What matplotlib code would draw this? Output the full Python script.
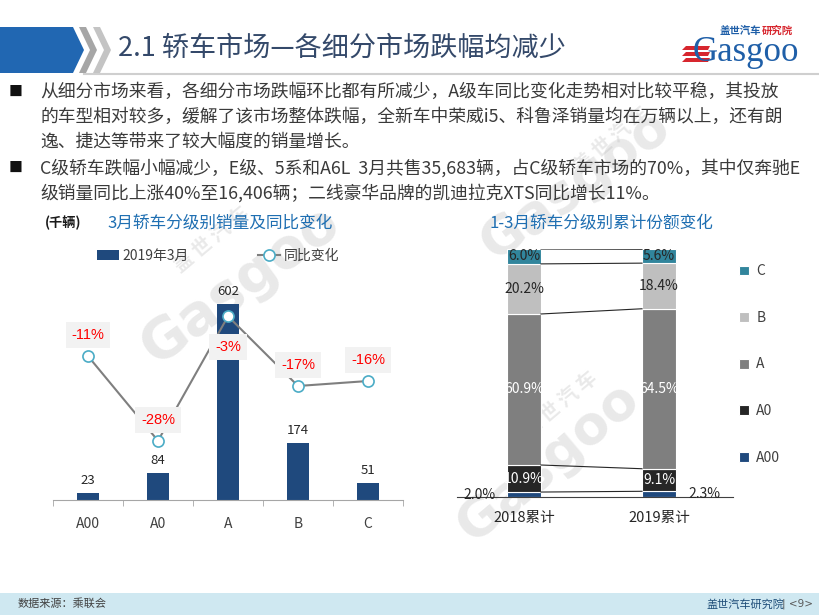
import matplotlib
matplotlib.use('Agg')
import matplotlib.pyplot as plt
from matplotlib.patches import Polygon, Rectangle, Patch
from matplotlib.lines import Line2D

plt.rcParams['font.family'] = ['Noto Sans CJK SC', 'DejaVu Sans']

# ---------------- data ----------------
page_title = "2.1 轿车市场—各细分市场跌幅均减少"
bullet_paragraphs = [
    ["从细分市场来看，各细分市场跌幅环比都有所减少，A级车同比变化走势相对比较平稳，其投放",
     "的车型相对较多，缓解了该市场整体跌幅，全新车中荣威i5、科鲁泽销量均在万辆以上，还有朗",
     "逸、捷达等带来了较大幅度的销量增长。"],
    ["C级轿车跌幅小幅减少，E级、5系和A6L  3月共售35,683辆，占C级轿车市场的70%，其中仅奔驰E",
     "级销量同比上涨40%至16,406辆；二线豪华品牌的凯迪拉克XTS同比增长11%。"],
]
left_title = "3月轿车分级别销量及同比变化"
left_unit = "(千辆)"
segments = ["A00", "A0", "A", "B", "C"]
sales_2019_03 = [23, 84, 602, 174, 51]          # 千辆
yoy_change = [-11, -28, -3, -17, -16]           # %
bar_series_name = "2019年3月"
line_series_name = "同比变化"

right_title = "1-3月轿车分级别累计份额变化"
share_periods = ["2018累计", "2019累计"]
share_names = ["A00", "A0", "A", "B", "C"]
share_A00 = [2.0, 2.3]
share_A0 = [10.9, 9.1]
share_A = [60.9, 64.5]
share_B = [20.2, 18.4]
share_C = [6.0, 5.6]

source_text = "数据来源：乘联会"
footer_org = "盖世汽车研究院"
footer_page = "| <9>"

# ---------------- figure helpers ----------------
W, H = 820, 615
fig = plt.figure(figsize=(W / 100, H / 100), dpi=100)
fig.patch.set_facecolor('white')


def fx(x):
    return x / W


def fy(y):
    return 1 - y / H


def poly(pts, color, z=2):
    fig.patches.append(Polygon([(fx(a), fy(b)) for a, b in pts], closed=True,
                               transform=fig.transFigure, facecolor=color,
                               edgecolor='none', zorder=z))


# ---------------- watermarks ----------------
wm_color = '#b8b8b8'
for (gx, gy, gr, gs), (cx, cy, cr, cs) in [
        ((240, 285, 36, 40), (212, 240, 40, 14)),
        ((548, 462, 40, 38), (560, 405, 40, 14)),
        ((575, 185, 36, 38), (612, 140, 40, 14))]:
    fig.text(fx(gx), fy(gy), "Gasgoo", rotation=gr, fontsize=gs, color=wm_color,
             alpha=0.3, ha='center', va='center', fontweight='bold', zorder=-2,
             family=['DejaVu Sans'])
    fig.text(fx(cx), fy(cy), "盖 世 汽 车", rotation=cr, fontsize=cs, color=wm_color,
             alpha=0.3, ha='center', va='center', fontweight='bold', zorder=-2)

# ---------------- header ----------------
poly([(0, 27), (73, 27), (84, 50), (73, 73), (0, 73)], '#2167B2')
poly([(79, 27), (86, 27), (97, 50), (86, 73), (79, 73), (90, 50)], '#A6A6A6')
poly([(93, 27), (100, 27), (111, 50), (100, 73), (93, 73), (104, 50)], '#C4C4C4')
fig.add_artist(Line2D([fx(84), fx(820)], [fy(73.5), fy(73.5)], color='#CFCFCF',
                      lw=1.5, transform=fig.transFigure))
fig.text(fx(118), fy(48), page_title, fontsize=19.5, color='#34496A',
         ha='left', va='center')

# logo
fig.text(fx(720), fy(31), "盖世汽车", fontsize=7.5, color='#1F5FA8', fontweight='bold',
         ha='left', va='center')
fig.text(fx(762), fy(31), "研究院", fontsize=7.5, color='#D7262E', fontweight='bold',
         ha='left', va='center')
fig.text(fx(693), fy(61), "Gasgoo", fontsize=25, color='#1F5FA8', ha='left',
         va='baseline', family=['Liberation Serif'])
for yy in (46, 52, 58):
    poly([(686, yy), (710, yy), (708, yy + 4), (682, yy + 4)], '#D7262E', z=3)

# ---------------- bullet text ----------------
line_ys = [[92, 117, 142], [168, 193]]
for para, ys in zip(bullet_paragraphs, line_ys):
    fig.text(fx(16), fy(ys[0]), "■", fontsize=10, color='#111111', ha='center', va='center')
    for txt, yy in zip(para, ys):
        fig.text(fx(40), fy(yy), txt, fontsize=12.8, color='#3A3A3A', ha='left', va='center')

# ---------------- left chart ----------------
fig.text(fx(45), fy(223), left_unit, fontsize=9.5, fontweight='bold', color='#1a1a1a',
         ha='left', va='center')
fig.text(fx(220), fy(223), left_title, fontsize=12, color='#1F6FB2', ha='center', va='center')

ax1 = fig.add_axes([fx(53), fy(500), 350 / W, 235 / H])
ax1.set_facecolor('none')
xs = list(range(len(segments)))
bar_color = '#1F497D'
ax1.bar(xs, sales_2019_03, width=0.31, color=bar_color, zorder=2)
ax1.set_xlim(-0.5, len(segments) - 0.5)
ax1.set_ylim(0, 722)
for x, v in zip(xs, sales_2019_03):
    ax1.annotate(f"{v}", (x, v), xytext=(0, 9), textcoords='offset points',
                 ha='center', va='center', fontsize=9.5, color='#262626')
for s in ['top', 'left', 'right']:
    ax1.spines[s].set_visible(False)
ax1.spines['bottom'].set_color('#A6A6A6')
ax1.set_yticks([])
ax1.set_xticks(xs, segments)
ax1.tick_params(axis='x', which='major', length=0, pad=12, labelsize=10, labelcolor='#404040')
ax1.set_xticks([i - 0.5 for i in range(len(segments) + 1)], minor=True)
ax1.tick_params(axis='x', which='minor', length=4, color='#A6A6A6')

ax2 = ax1.twinx()
ax2.set_facecolor('none')
ax2.set_ylim(-39.9, 7.3)
ax2.plot(xs, yoy_change, color='#7F7F7F', lw=1.5, marker='o', ms=8,
         mfc='white', mec='#4BACC6', mew=1.2, zorder=3)
label_offsets = [15, 15, -22, 15, 15]
for x, v, off in zip(xs, yoy_change, label_offsets):
    ax2.annotate(f"{v}%", (x, v), xytext=(0, off), textcoords='offset points',
                 ha='center', va='center', fontsize=10.5, color='#FF0000',
                 family=['Liberation Sans'],
                 bbox=dict(boxstyle='square,pad=0.4', fc='#F2F2F2', ec='none'), zorder=4)
ax2.axis('off')

h_bar = Patch(facecolor=bar_color, edgecolor='none')
h_line = Line2D([], [], color='#7F7F7F', lw=1.5, marker='o', ms=8, mfc='white',
                mec='#4BACC6', mew=1.2)
fig.legend([h_bar, h_line], [bar_series_name, line_series_name], loc='center',
           bbox_to_anchor=(fx(218), fy(256)), ncol=2, frameon=False, fontsize=10,
           handlelength=1.6, handletextpad=0.25, columnspacing=5.0, labelcolor='#404040')

# ---------------- right chart ----------------
fig.text(fx(601), fy(223), right_title, fontsize=12, color='#1F6FB2', ha='center', va='center')
ax3 = fig.add_axes([fx(457), fy(497), 276 / W, 248 / H])
ax3.set_facecolor('none')
share_values = [share_A00, share_A0, share_A, share_B, share_C]
share_colors = ['#1F497D', '#262626', '#7F7F7F', '#BFBFBF', '#31859C']
label_colors = [None, 'white', 'white', '#262626', '#262626']
px = [0, 1]
bw = 0.252
bottoms = [0.0, 0.0]
tops_by_series = []
for name, vals, col, lc in zip(share_names, share_values, share_colors, label_colors):
    ax3.bar(px, vals, bottom=bottoms, width=bw, color=col, edgecolor='white', lw=0.8,
            label=name, zorder=2)
    for i in px:
        yc = bottoms[i] + vals[i] / 2
        if lc is None:
            if i == 0:
                ax3.annotate(f"{vals[i]:.1f}%", (i - bw / 2, yc), xytext=(-8, 0),
                             textcoords='offset points', ha='right', va='center',
                             fontsize=10, color='#262626')
            else:
                ax3.annotate(f"{vals[i]:.1f}%", (i + bw / 2, yc), xytext=(9, 0),
                             textcoords='offset points', ha='left', va='center',
                             fontsize=10, color='#262626')
        else:
            ax3.text(i, yc, f"{vals[i]:.1f}%", ha='center', va='center', fontsize=10,
                     color=lc, zorder=3)
    bottoms = [bottoms[i] + vals[i] for i in px]
    tops_by_series.append(list(bottoms))
for tops in tops_by_series:
    ax3.plot([bw / 2, 1 - bw / 2], tops, color='#262626', lw=0.8, zorder=3)
ax3.set_xlim(-0.496, 1.548)
ax3.set_ylim(0, 100)
for s in ['top', 'left', 'right']:
    ax3.spines[s].set_visible(False)
ax3.spines['bottom'].set_color('#404040')
ax3.spines['bottom'].set_linewidth(0.8)
ax3.set_yticks([])
ax3.set_xticks(px, share_periods)
ax3.tick_params(axis='x', length=0, pad=10, labelsize=10.5, labelcolor='#262626')
hs, ls = ax3.get_legend_handles_labels()
fig.legend(hs[::-1], ls[::-1], loc='center left', bbox_to_anchor=(fx(727), fy(364.5)),
           frameon=False, fontsize=10, handlelength=0.7, handleheight=0.7,
           labelspacing=2.35, handletextpad=0.5, labelcolor='#404040')

# ---------------- footer ----------------
fig.patches.append(Rectangle((0, 0), 1, (615 - 593) / H, transform=fig.transFigure,
                             facecolor='#CFE8F1', edgecolor='none', zorder=1))
fig.text(fx(18), fy(604), source_text, fontsize=8, style='italic', color='#404040',
         ha='left', va='center')
fig.text(fx(784), fy(604), footer_org, fontsize=8, color='#1F4E79', ha='right', va='center')
fig.text(fx(813), fy(604), footer_page, fontsize=7.5, color='#595959', ha='right',
         va='center', family=['DejaVu Sans'])

fig.savefig('out.png', dpi=100, facecolor='white')
